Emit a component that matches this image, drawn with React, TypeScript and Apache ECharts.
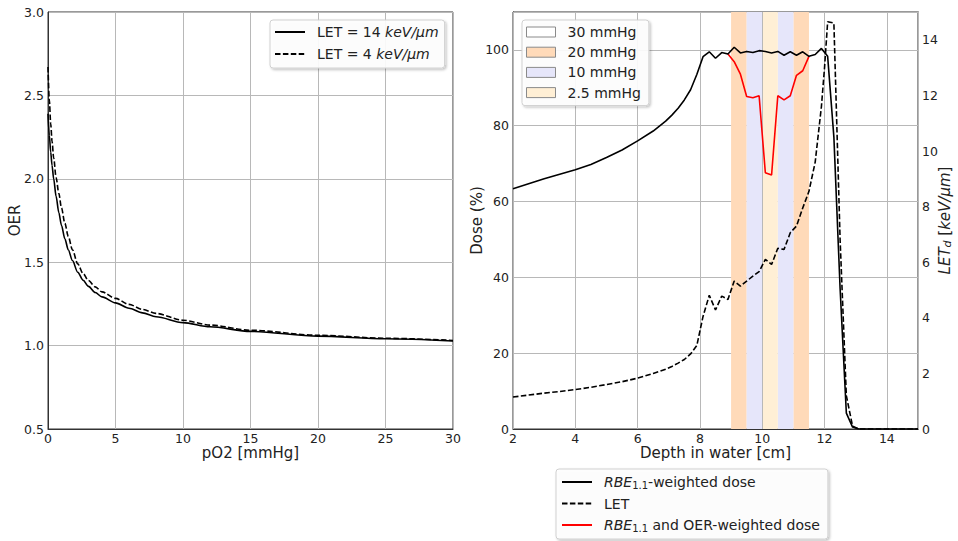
import React, { useEffect, useRef } from 'react';
import * as echarts from 'echarts';

// ---------- Left panel: OER vs pO2 ----------
const pO2 = [0, 0.1, 0.2, 0.3, 0.42, 0.6, 0.8, 1.0, 1.25, 1.5, 1.81, 2.2, 2.6, 3.0, 3.5, 4.0, 5.0, 6, 7, 8, 10, 12, 15, 20, 25, 30];
const oerLet14 = [2.39, 2.26, 2.16, 2.08, 2.0, 1.895, 1.798, 1.72, 1.64, 1.575, 1.51, 1.44, 1.392, 1.355, 1.318, 1.292, 1.256, 1.224, 1.196, 1.173, 1.138, 1.113, 1.085, 1.057, 1.041, 1.028];
const oerLet4 = [2.67, 2.47, 2.33, 2.225, 2.125, 2.008, 1.913, 1.825, 1.733, 1.655, 1.575, 1.49, 1.432, 1.39, 1.352, 1.322, 1.283, 1.247, 1.217, 1.193, 1.152, 1.123, 1.092, 1.062, 1.044, 1.031];
const oerTicks = [0.5, 3.0];

// ---------- Right panel: depth dose ----------
const doseDepth = [2.0, 2.5, 3.0, 3.5, 4.0, 4.5, 5.0, 5.5, 6.0, 6.5, 6.9, 7.1, 7.3, 7.5, 7.7, 7.9, 8.1, 8.3, 8.5, 8.7, 8.9, 9.1, 9.3, 9.5, 9.7, 9.9, 10.1, 10.3, 10.5, 10.7, 10.9, 11.1, 11.3, 11.5, 11.7, 11.9, 12.1, 12.3, 12.5, 12.7, 12.9, 13.1, 15.0];
const doseVals = [63.4, 64.7, 66.0, 67.2, 68.4, 69.8, 71.6, 73.6, 76.0, 78.6, 81.2, 82.8, 84.6, 86.8, 89.5, 93.5, 98.2, 99.5, 97.8, 99.3, 98.9, 100.7, 99.2, 99.6, 99.3, 99.8, 99.6, 99.2, 99.6, 98.6, 99.5, 98.6, 99.5, 98.3, 98.8, 100.4, 98.3, 77, 37, 4.2, 0.5, 0, 0];

const oerDepth = [8.9, 9.1, 9.3, 9.5, 9.7, 9.9, 10.1, 10.3, 10.5, 10.7, 10.9, 11.1, 11.3, 11.5];
const oerDose = [98.9, 96.9, 93.6, 87.7, 87.4, 87.9, 67.6, 67.0, 87.9, 86.8, 87.9, 93.3, 94.5, 98.3];

const letDepth = [2.0, 2.5, 3.0, 3.5, 4.0, 4.5, 5.0, 5.5, 6.0, 6.5, 6.9, 7.1, 7.3, 7.5, 7.7, 7.9, 8.1, 8.3, 8.5, 8.7, 8.9, 9.1, 9.3, 9.5, 9.7, 9.9, 10.1, 10.3, 10.5, 10.7, 10.9, 11.1, 11.3, 11.5, 11.7, 11.8, 11.9, 12.0, 12.1, 12.3, 12.5, 12.7, 12.9, 13.1, 15.0];
const letVals = [1.15, 1.22, 1.29, 1.35, 1.42, 1.5, 1.6, 1.7, 1.83, 2.0, 2.15, 2.25, 2.37, 2.5, 2.7, 3.0, 4.05, 4.81, 4.28, 4.78, 4.66, 5.32, 5.14, 5.32, 5.5, 5.66, 6.1, 5.92, 6.5, 6.46, 7.06, 7.3, 7.95, 8.55, 9.6, 10.6, 11.6, 13.0, 14.65, 14.6, 6.8, 1.2, 0.1, 0, 0];

// hypoxia bands (cm)
const band20 = [[9.0, 9.5], [11.0, 11.5]];
const band10 = [[9.5, 10.0], [10.5, 11.0]];
const band25 = [[10.0, 10.5]];
const bandNames = ['30 mmHg', '20 mmHg', '10 mmHg', '2.5 mmHg'];
const bandColors = ['#ffffff', '#ffdab9', '#e6e6fa', '#ffefd5'];

const FONT = 'DejaVu Sans';
const TXT = '#222';

const zip = (xs: number[], ys: number[]) => xs.map((x, i) => [x, ys[i]]);

const rich = {
  n: { fontSize: 14, fontFamily: FONT, color: TXT },
  i: { fontSize: 14, fontFamily: FONT, color: TXT, fontStyle: 'italic' },
  s: { fontSize: 10, fontFamily: FONT, color: TXT, verticalAlign: 'bottom', lineHeight: 14 },
};
const axisRich = {
  n: { fontSize: 15, fontFamily: FONT, color: TXT, lineHeight: 16 },
  i: { fontSize: 15, fontFamily: FONT, color: TXT, fontStyle: 'italic', lineHeight: 16 },
  s: { fontSize: 11, fontFamily: FONT, color: TXT, fontStyle: 'italic', verticalAlign: 'bottom', lineHeight: 15 },
};

const gridLine = { show: true, lineStyle: { color: '#b8b8b8', width: 1 } };
const labelStyle = { color: TXT, fontSize: 12.5, fontFamily: FONT, margin: 3, lineHeight: 12 };
const axisBase = (extra: any) => ({
  axisLine: { show: true, onZero: false, lineStyle: { color: '#333', width: 1 } },
  axisTick: { show: false },
  axisLabel: labelStyle,
  splitLine: gridLine,
  nameLocation: 'middle',
  nameMoveOverlap: false,
  nameTextStyle: { color: TXT, fontSize: 15, fontFamily: FONT, lineHeight: 16, rich: axisRich },
  ...extra,
});

const legendBox = {
  orient: 'vertical',
  borderColor: '#d0d0d0',
  borderWidth: 1,
  borderRadius: 3,
  backgroundColor: 'rgba(255,255,255,0.9)',
  shadowColor: 'rgba(0,0,0,0.25)',
  shadowBlur: 2,
  shadowOffsetX: 1.5,
  shadowOffsetY: 1.5,
  textStyle: { fontSize: 14, fontFamily: FONT, color: TXT, lineHeight: 16, padding: [0, 0, 0, 7], rich },
};

const legendFmt = (name: string) => {
  if (name.indexOf('keV/μm') >= 0) return '{n|' + name.replace(' keV/μm', ' }{i|keV/μm}');
  if (name.indexOf('RBE1.1') === 0) return '{i|RBE}{s|1.1}{n|' + name.slice(6) + '}';
  return '{n|' + name + '}';
};

const bandArea = (bands: number[][], color: string) => ({
  silent: true,
  itemStyle: { color, opacity: 1 },
  data: bands.map((b) => [{ xAxis: b[0] }, { xAxis: b[1] }]),
});

export default function App() {
  const ref = useRef<HTMLDivElement>(null);
  useEffect(() => {
    if (!ref.current) return;
    const chart = echarts.init(ref.current, null, { renderer: 'svg' });
    const option: any = {
      animation: false,
      backgroundColor: '#ffffff',
      textStyle: { fontFamily: FONT },
      grid: [
        { left: 48, top: 12, width: 405, height: 417, show: true, borderColor: '#333', borderWidth: 1, backgroundColor: 'transparent' },
        { left: 513, top: 12, width: 405, height: 417, show: true, borderColor: '#333', borderWidth: 1, backgroundColor: 'transparent' },
      ],
      xAxis: [
        axisBase({ gridIndex: 0, type: 'value', min: 0, max: 30, interval: 5, name: 'pO2 [mmHg]', nameGap: 16 }),
        axisBase({ gridIndex: 1, type: 'value', min: 2, max: 15, interval: 2, name: 'Depth in water [cm]', nameGap: 16, z: 2, axisLabel: { ...labelStyle, showMaxLabel: false } }),
      ],
      yAxis: [
        axisBase({ gridIndex: 0, type: 'value', min: oerTicks[0], max: oerTicks[1], interval: 0.5, name: 'OER', nameGap: 25, axisLabel: { ...labelStyle, margin: 4, formatter: (v: number) => v.toFixed(1) } }),
        axisBase({ gridIndex: 1, type: 'value', min: 0, max: 110, interval: 20, name: 'Dose (%)', nameGap: 28, axisLabel: { ...labelStyle, margin: 4, showMaxLabel: false } }),
        axisBase({ gridIndex: 1, type: 'value', position: 'right', min: 0, max: 15, interval: 2, name: '{i|LET}{s|d}{n| [}{i|keV/μm}{n|]}', nameGap: 19, nameRotate: 90, splitLine: { show: false }, axisLabel: { ...labelStyle, margin: 4, showMaxLabel: false } }),
      ],
      legend: [
        {
          ...legendBox,
          left: 270, top: 20,
          padding: [4, 6, 6, 4],
          itemWidth: 30, itemHeight: 14, itemGap: 6,
          itemStyle: { opacity: 0 },
          data: ['LET = 14 keV/μm', 'LET = 4 keV/μm'],
          formatter: legendFmt,
        },
        {
          ...legendBox,
          left: 522, top: 20,
          padding: [4, 8, 5, 4],
          itemWidth: 29, itemHeight: 10, itemGap: 4.2,
          data: bandNames.map((n, i) => ({ name: n, icon: 'rect', itemStyle: { color: bandColors[i], borderColor: '#8a8a8a', borderWidth: 1, opacity: 1 } })),
        },
        {
          ...legendBox,
          left: 556, top: 469,
          padding: [5, 8, 6, 5],
          itemWidth: 30, itemHeight: 14, itemGap: 5.5,
          itemStyle: { opacity: 0 },
          data: ['RBE1.1-weighted dose', 'LET', 'RBE1.1 and OER-weighted dose'],
          formatter: legendFmt,
        },
      ],
      series: [
        { name: bandNames[0], type: 'line', xAxisIndex: 1, yAxisIndex: 1, data: [], symbol: 'none', itemStyle: { color: bandColors[0] }, lineStyle: { color: bandColors[0] } },
        { name: bandNames[1], type: 'line', xAxisIndex: 1, yAxisIndex: 1, data: [], symbol: 'none', itemStyle: { color: bandColors[1] }, lineStyle: { color: bandColors[1] }, markArea: bandArea(band20, bandColors[1]) },
        { name: bandNames[2], type: 'line', xAxisIndex: 1, yAxisIndex: 1, data: [], symbol: 'none', itemStyle: { color: bandColors[2] }, lineStyle: { color: bandColors[2] }, markArea: bandArea(band10, bandColors[2]) },
        { name: bandNames[3], type: 'line', xAxisIndex: 1, yAxisIndex: 1, data: [], symbol: 'none', itemStyle: { color: bandColors[3] }, lineStyle: { color: bandColors[3] }, markArea: bandArea(band25, bandColors[3]) },
        {
          name: 'LET = 14 keV/μm', type: 'line', xAxisIndex: 0, yAxisIndex: 0, data: zip(pO2, oerLet14),
          symbol: 'none', smooth: 0.3, smoothMonotone: 'x', itemStyle: { color: '#000' }, lineStyle: { color: '#000', width: 1.6 }, z: 3,
        },
        {
          name: 'LET = 4 keV/μm', type: 'line', xAxisIndex: 0, yAxisIndex: 0, data: zip(pO2, oerLet4),
          symbol: 'none', smooth: 0.3, smoothMonotone: 'x', itemStyle: { color: '#000' }, lineStyle: { color: '#000', width: 1.6, type: [5.5, 2.4] }, z: 3,
        },
        {
          name: 'RBE1.1 and OER-weighted dose', type: 'line', xAxisIndex: 1, yAxisIndex: 1, data: zip(oerDepth, oerDose),
          symbol: 'none', itemStyle: { color: '#ff0000' }, lineStyle: { color: '#ff0000', width: 1.6 }, z: 3,
        },
        {
          name: 'RBE1.1-weighted dose', type: 'line', xAxisIndex: 1, yAxisIndex: 1, data: zip(doseDepth, doseVals),
          symbol: 'none', itemStyle: { color: '#000' }, lineStyle: { color: '#000', width: 1.6 }, z: 4,
        },
        {
          name: 'LET', type: 'line', xAxisIndex: 1, yAxisIndex: 2, data: zip(letDepth, letVals),
          symbol: 'none', itemStyle: { color: '#000' }, lineStyle: { color: '#000', width: 1.6, type: [5.5, 2.4] }, z: 4,
        },
      ],
    };
    chart.setOption(option);
    return () => chart.dispose();
  }, []);
  return <div ref={ref} style={{ position: 'fixed', left: 0, top: 0, width: 958, height: 541, background: '#fff' }} />;
}
